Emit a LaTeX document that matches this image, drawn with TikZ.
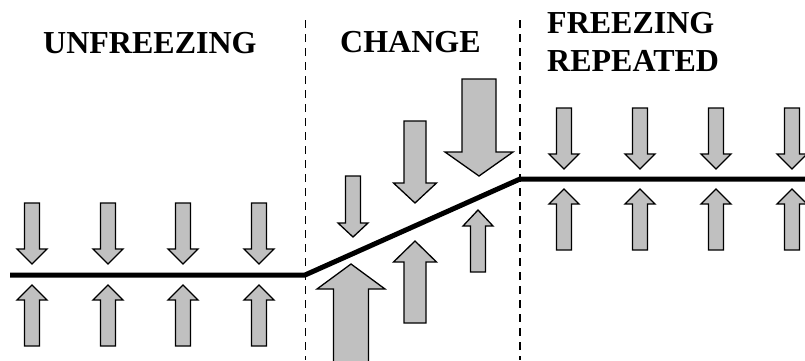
\documentclass[tikz,border=0pt]{standalone}
\usepackage{fontspec}
\setmainfont{Liberation Serif}
\definecolor{forcegray}{RGB}{192,192,192}
\tikzset{
  pics/force/.style args={#1/#2/#3/#4}{code={
    \filldraw[fill=forcegray,line width=1.3pt,line join=miter]
      (0,0)--(#4,-#2)--(#3,-#2)--(#3,-#1)--(-#3,-#1)--(-#3,-#2)--(-#4,-#2)--cycle;}},
  phase/.style={font=\fontsize{32}{38}\selectfont\bfseries,inner sep=0pt,anchor=base west}
}
\begin{document}
\begin{tikzpicture}[x=1pt,y=-1pt]
\clip(0,0)rectangle(805,360);
\node[phase](unfreeze)at(43,53){UNFREEZING};
\node[phase](change)at(340,52){CHANGE};
\node[phase](freeze)at(547,33){FREEZING};
\node[phase](repeat)at(547,71){REPEATED};
\draw[line width=1.5pt,dash pattern=on 7.5pt off 6.5pt](305.5,20)--(305.5,360);
\draw[line width=1.5pt,dash pattern=on 7.5pt off 6.5pt](520,20)--(520,360);
\draw[line width=5pt](10,275)--(305,275)--(520,179)--(805,179);
% equilibrium before and after
\foreach \x in {32,108,183,259}{
  \pic at(\x,264){force=61/15/7.5/15};
  \pic[rotate=180]at(\x,285){force=61/15/7.5/15};
}
\foreach \x in {564,640,716,792}{
  \pic at(\x,169){force=61/15/7.5/15};
  \pic[rotate=180]at(\x,189){force=61/15/7.5/15};
}
% forces during the change
\pic at(353,237){force=61/14/7.5/15};
\pic at(415,203){force=82/20/11/21.5};
\pic at(479,176){force=97/24/17/34};
\pic[rotate=180]at(351,264){force=100/25/17.5/34};
\pic[rotate=180]at(415,241){force=82/21/11/21.5};
\pic[rotate=180]at(478,210){force=62/16/7.5/15};
\end{tikzpicture}
\end{document}
